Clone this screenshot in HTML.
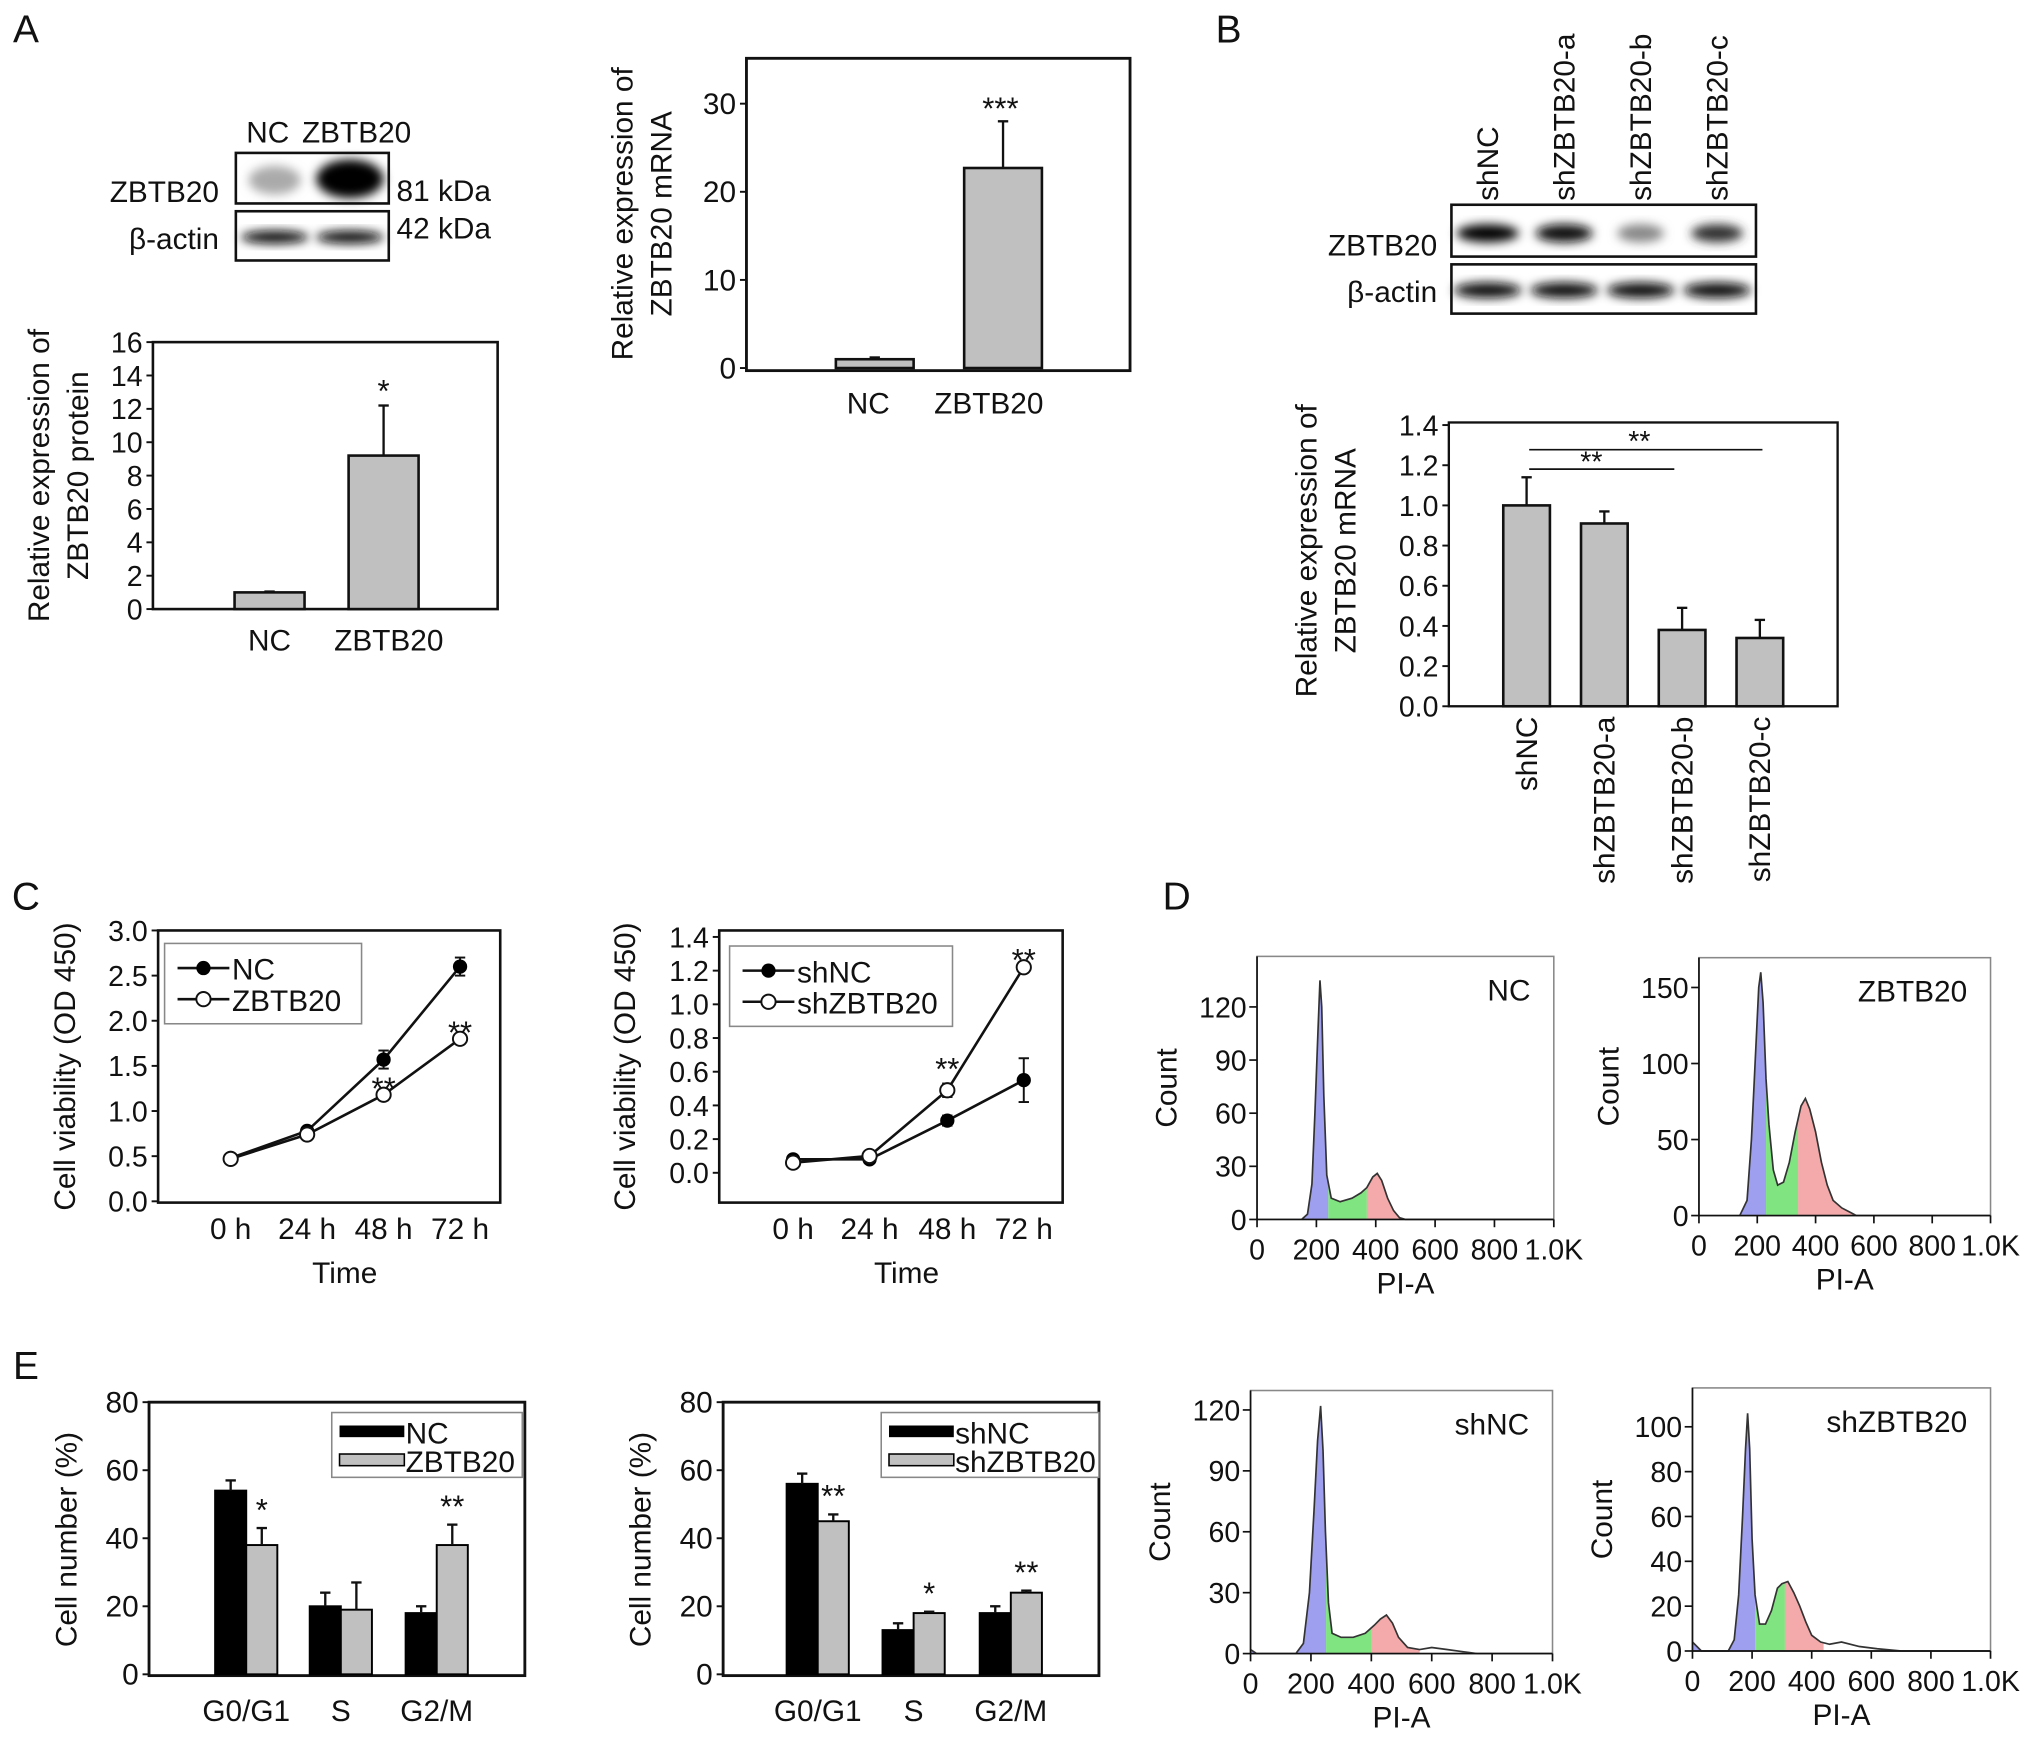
<!DOCTYPE html>
<html><head><meta charset="utf-8"><style>
html,body{margin:0;padding:0;background:#fff;}
svg{display:block;}
text{font-family:"Liberation Sans",Arial,sans-serif;fill:#111;}
</style></head><body>
<svg id="fig" xmlns="http://www.w3.org/2000/svg" width="2032" height="1743" viewBox="0 0 1568 1345" preserveAspectRatio="none">
<defs><filter id="blur" x="-50%" y="-50%" width="200%" height="200%"><feGaussianBlur stdDeviation="4"/></filter></defs>
<rect x="0" y="0" width="1568" height="1345" fill="#fff"/>
</svg>
<script>
// ---------- data ----------
const protCats=['NC','ZBTB20'];
const protVals=[1,9.2];
const protErr=[0.05,3.0];
const protTicks=[0,2,4,6,8,10,12,14,16];
const mrnaCats=['NC','ZBTB20'];
const mrnaVals=[1,22.7];
const mrnaErr=[0.2,5.3];
const mrnaTicks=[0,10,20,30];
const shCats=['shNC','shZBTB20-a','shZBTB20-b','shZBTB20-c'];
const shVals=[1.0,0.91,0.38,0.34];
const shErr=[0.14,0.06,0.11,0.09];
const shTicks=[0,0.2,0.4,0.6,0.8,1.0,1.2,1.4];
const times=['0 h','24 h','48 h','72 h'];
const c1Ticks=[0,0.5,1.0,1.5,2.0,2.5,3.0];
const ncVia=[0.48,0.78,1.57,2.6];
const ncViaErr=[0.02,0.04,0.1,0.1];
const zVia=[0.47,0.74,1.18,1.8];
const zViaErr=[0.02,0.03,0.06,0.04];
const c2Ticks=[0,0.2,0.4,0.6,0.8,1.0,1.2,1.4];
const shncVia=[0.08,0.08,0.31,0.55];
const shncViaErr=[0.02,0.02,0.03,0.13];
const shzVia=[0.06,0.1,0.49,1.22];
const shzViaErr=[0.02,0.02,0.04,0.03];
const phases=['G0/G1','S','G2/M'];
const eTicks=[0,20,40,60,80];
const e1Black=[54,20,18];
const e1BlackErr=[3,4,2];
const e1Gray=[38,19,38];
const e1GrayErr=[5,8,6];
const e2Black=[56,13,18];
const e2BlackErr=[3,2,2];
const e2Gray=[45,18,24];
const e2GrayErr=[2,0.4,0.6];
const histXTicks=[0,200,400,600,800,1000];
const histXLabels=['0','200','400','600','800','1.0K'];
const hNC=[[150,0],[170,3],[185,20],[195,60],[205,105],[212,135],[218,120],[225,70],[235,25],[250,12],[280,10],[320,12],[350,15],[370,18],[390,24],[405,26],[420,22],[440,12],[460,5],[480,1],[500,0],[1000,0]];
const hZ=[[140,0],[165,10],[180,50],[195,110],[205,150],[212,160],[220,140],[230,90],[240,60],[255,30],[270,20],[290,22],[310,35],[330,55],[350,72],[365,77],[380,70],[400,55],[420,35],[440,20],[460,10],[490,5],[520,2],[540,0],[1000,0]];
const hSHNC=[[0,2],[20,0],[150,0],[175,5],[195,30],[210,70],[222,105],[232,122],[240,100],[248,60],[258,25],[270,10],[300,8],[340,8],[380,10],[410,14],[430,17],[450,19],[470,15],[490,8],[520,3],[560,2],[600,3],[650,2],[700,1],[750,0],[1000,0]];
const hSHZ=[[0,4],[30,0],[120,0],[140,5],[155,25],[168,60],[178,90],[185,106],[192,90],[200,50],[210,25],[225,12],[245,12],[265,18],[285,28],[300,30],[320,31],[340,26],[360,20],[380,13],[400,7],[430,4],[460,3],[500,4],[560,2],[620,1],[700,0],[1000,0]];

// ---------- helpers ----------
const NS='http://www.w3.org/2000/svg';
const svg=document.getElementById('fig');
function el(tag,attrs,name,parent){
  const e=document.createElementNS(NS,tag);
  for(const k in attrs) e.setAttribute(k,attrs[k]);
  
  
  (parent||svg).appendChild(e);
  return e;
}
function txt(x,y,s,name,size,anchor,rot,parent){
  const a={x:x,y:y,'font-size':size||22,'text-anchor':anchor||'middle'};
  if(rot) a.transform='rotate('+rot+' '+x+' '+y+')';
  const t=el('text',a,name,parent);
  t.textContent=s;
  return t;
}
function lin(v0,p0,v1,p1){return v=>p0+(v-v0)*(p1-p0)/(v1-v0);}
function frame(x0,y0,x1,y1,name,sw,col){
  return el('rect',{x:x0,y:y0,width:x1-x0,height:y1-y0,fill:'none',stroke:col||'#111','stroke-width':sw||2},name);
}
function line(x1,y1,x2,y2,name,sw,col){
  return el('line',{x1:x1,y1:y1,x2:x2,y2:y2,stroke:col||'#111','stroke-width':sw||1.5},name);
}
function yAxisTicks(ticks,ys,xa,name,fmt,size){
  ticks.forEach(t=>{
    line(xa-5,ys(t),xa,ys(t),name+'-tick',1.5);
    txt(xa-8,ys(t)+8,fmt(t),name+'-label',size||22,'end');
  });
}
function errBar(x,yTop,yBase,name,cap){
  line(x,yBase,x,yTop,name,1.8);
  line(x-(cap||4),yTop,x+(cap||4),yTop,name+'-cap',1.8);
}

// ---------- Panel A ----------
txt(20,33,'A','panel-label-a',30);
txt(190,110,'NC','blot-a-lane-nc',23,'start');
txt(233,110,'ZBTB20','blot-a-lane-zbtb20',23,'start');
el('rect',{x:182,y:118,width:118,height:39,fill:'#fff'},'blot-a-zbtb20-strip');
el('ellipse',{cx:212,cy:139,rx:20,ry:11,fill:'#aaa',filter:'url(#blur)'},'blot-a-band-nc');
el('ellipse',{cx:270,cy:138,rx:26,ry:15,fill:'#000',filter:'url(#blur)'},'blot-a-band-zbtb20');
frame(182,118,300,157,'blot-a-zbtb20-frame',2);
el('ellipse',{cx:212,cy:183,rx:26,ry:5,fill:'#111',filter:'url(#blur)'},'blot-a-actin-nc');
el('ellipse',{cx:270,cy:183,rx:26,ry:5,fill:'#111',filter:'url(#blur)'},'blot-a-actin-zbtb20');
frame(182,163,300,201,'blot-a-actin-frame',2);
txt(169,156,'ZBTB20','blot-a-row-zbtb20',23,'end');
txt(169,192,'β-actin','blot-a-row-actin',23,'end');
txt(306,155,'81 kDa','blot-a-mw-81',23,'start');
txt(306,184,'42 kDa','blot-a-mw-42',23,'start');

(function(){
  const x0=118,y0=264,x1=384,y1=470;
  const ys=lin(0,470,16,264);
  const xc=[208,296];
  frame(x0,y0,x1,y1,'protein-chart-frame',2);
  yAxisTicks(protTicks,ys,x0,'protein-y',t=>String(t),22);
  protVals.forEach((v,i)=>{
    el('rect',{x:xc[i]-27,y:ys(v),width:54,height:ys(0)-ys(v),fill:'#c0c0c0',stroke:'#111','stroke-width':2},'protein-bar-'+protCats[i].toLowerCase());
    errBar(xc[i],ys(v+protErr[i]),ys(v),'protein-err-'+i);
    txt(xc[i]+(i?4:0),502,protCats[i],'protein-x-label',23);
  });
  txt(296,310,'*','protein-sig-star',24);
  txt(38,367,'Relative expression of','protein-y-title-1',23,'middle',-90);
  txt(68,367,'ZBTB20 protein','protein-y-title-2',23,'middle',-90);
})();

(function(){
  const x0=576,y0=45,x1=872,y1=286;
  const ys=lin(0,284,30,80);
  const xc=[675,774];
  frame(x0,y0,x1,y1,'mrna-a-chart-frame',2.2);
  yAxisTicks(mrnaTicks,ys,x0,'mrna-a-y',t=>String(t),23);
  mrnaVals.forEach((v,i)=>{
    el('rect',{x:xc[i]-30,y:ys(v),width:60,height:ys(0)-ys(v),fill:'#c0c0c0',stroke:'#111','stroke-width':2},'mrna-a-bar-'+mrnaCats[i].toLowerCase());
    errBar(xc[i],ys(v+mrnaErr[i]),ys(v),'mrna-a-err-'+i);
  });
  txt(670,319,'NC','mrna-a-x-label',23);
  txt(763,319,'ZBTB20','mrna-a-x-label',23);
  txt(772,92,'***','mrna-a-sig-star',24);
  txt(488,165,'Relative expression of','mrna-a-y-title-1',23,'middle',-90);
  txt(518,165,'ZBTB20 mRNA','mrna-a-y-title-2',23,'middle',-90);
})();

// ---------- Panel B ----------
txt(948,33,'B','panel-label-b',30);
(function(){
  const lx=[1148,1207,1266,1325];
  shCats.forEach((c,i)=>txt(lx[i]+8,155,c,'blot-b-lane-label',23,'start',-90));
  const zInt=['#000','#111','#888','#333'];
  const zW=[24,22,18,20];
  lx.forEach((x,i)=>el('ellipse',{cx:x,cy:180,rx:zW[i],ry:7,fill:zInt[i],filter:'url(#blur)'},'blot-b-zbtb20-band'));
  frame(1120,158,1355,198,'blot-b-zbtb20-frame',2);
  lx.forEach((x,i)=>el('ellipse',{cx:x,cy:224,rx:26,ry:6,fill:'#111',filter:'url(#blur)'},'blot-b-actin-band'));
  frame(1120,204,1355,242,'blot-b-actin-frame',2);
  txt(1109,197,'ZBTB20','blot-b-row-zbtb20',23,'end');
  txt(1109,233,'β-actin','blot-b-row-actin',23,'end');

  const x0=1118,y0=326,x1=1418,y1=545;
  const ys=lin(0,545,1.4,328);
  const xc=[1178,1238,1298,1358];
  frame(x0,y0,x1,y1,'mrna-b-chart-frame',1.8);
  yAxisTicks(shTicks,ys,x0,'mrna-b-y',t=>t.toFixed(1),22);
  shVals.forEach((v,i)=>{
    el('rect',{x:xc[i]-18,y:ys(v),width:36,height:ys(0)-ys(v),fill:'#c0c0c0',stroke:'#111','stroke-width':2},'mrna-b-bar-'+shCats[i].toLowerCase());
    errBar(xc[i],ys(v+shErr[i]),ys(v),'mrna-b-err-'+i);
    txt(xc[i]+8,553,shCats[i],'mrna-b-x-label',23,'end',-90);
  });
  line(1180,347,1360,347,'sig-bracket-shnc-c',1.3);
  txt(1265,348,'**','sig-star-shnc-c',22);
  line(1180,362,1292,362,'sig-bracket-shnc-b',1.3);
  txt(1228,364,'**','sig-star-shnc-b',22);
  txt(1016,425,'Relative expression of','mrna-b-y-title-1',23,'middle',-90);
  txt(1046,425,'ZBTB20 mRNA','mrna-b-y-title-2',23,'middle',-90);
})();

// ---------- Panel C ----------
txt(20,702,'C','panel-label-c',30);
function lineChart(pfx,x0,y0,x1,y1,ys,ticks,fmt,xc,sA,eA,sB,eB,legend,stars){
  frame(x0,y0,x1,y1,pfx+'-frame',2);
  yAxisTicks(ticks,ys,x0,pfx+'-y',fmt,22);
  times.forEach((t,i)=>txt(xc[i],956,t,pfx+'-x-label',23));
  txt((x0+x1)/2+12,990,'Time','x-axis-title-'+pfx,23);
  const ptsA=sA.map((v,i)=>xc[i]+','+ys(v)).join(' ');
  const ptsB=sB.map((v,i)=>xc[i]+','+ys(v)).join(' ');
  el('polyline',{points:ptsA,fill:'none',stroke:'#111','stroke-width':2},pfx+'-line-a');
  el('polyline',{points:ptsB,fill:'none',stroke:'#111','stroke-width':2},pfx+'-line-b');
  sA.forEach((v,i)=>{
    line(xc[i],ys(v+eA[i]),xc[i],ys(v-eA[i]),pfx+'-err-a',1.5);
    line(xc[i]-4,ys(v+eA[i]),xc[i]+4,ys(v+eA[i]),pfx+'-err-a-cap',1.5);
    line(xc[i]-4,ys(v-eA[i]),xc[i]+4,ys(v-eA[i]),pfx+'-err-a-cap',1.5);
  });
  sB.forEach((v,i)=>{
    line(xc[i],ys(v+eB[i]),xc[i],ys(v-eB[i]),pfx+'-err-b',1.5);
    line(xc[i]-4,ys(v+eB[i]),xc[i]+4,ys(v+eB[i]),pfx+'-err-b-cap',1.5);
    line(xc[i]-4,ys(v-eB[i]),xc[i]+4,ys(v-eB[i]),pfx+'-err-b-cap',1.5);
  });
  sA.forEach((v,i)=>el('circle',{cx:xc[i],cy:ys(v),r:5.5,fill:'#000'},pfx+'-point-a'));
  sB.forEach((v,i)=>el('circle',{cx:xc[i],cy:ys(v),r:5.5,fill:'#fff',stroke:'#111','stroke-width':1.5},pfx+'-point-b'));
  const L=legend;
  el('rect',{x:L.x,y:L.y,width:L.w,height:62,fill:'#fff',stroke:'#888','stroke-width':1.2},pfx+'-legend-box');
  line(L.x+10,L.y+19,L.x+50,L.y+19,pfx+'-legend-line-a',2);
  el('circle',{cx:L.x+30,cy:L.y+19,r:5.5,fill:'#000'},pfx+'-legend-marker-a');
  txt(L.x+52,L.y+28,L.a,pfx+'-legend-label-a',23,'start');
  line(L.x+10,L.y+43,L.x+50,L.y+43,pfx+'-legend-line-b',2);
  el('circle',{cx:L.x+30,cy:L.y+43,r:5.5,fill:'#fff',stroke:'#111','stroke-width':1.5},pfx+'-legend-marker-b');
  txt(L.x+52,L.y+52,L.b,pfx+'-legend-label-b',23,'start');
  stars.forEach(s=>txt(xc[s[0]],s[1],'**',pfx+'-sig-star',24));
}
lineChart('viability-oe',122,718,386,928,lin(0,927,3,718),c1Ticks,t=>t.toFixed(1),[178,237,296,355],
  ncVia,ncViaErr,zVia,zViaErr,{x:127,y:728,w:152,a:'NC',b:'ZBTB20'},[[2,848],[3,805]]);
txt(58,823,'Cell viability (OD 450)','viability-oe-y-title',23,'middle',-90);
lineChart('viability-sh',555,718,820,928,lin(0,905,1.4,723),c2Ticks,t=>t.toFixed(1),[612,671,731,790],
  shncVia,shncViaErr,shzVia,shzViaErr,{x:563,y:730,w:172,a:'shNC',b:'shZBTB20'},[[2,833],[3,749]]);
txt(490,823,'Cell viability (OD 450)','viability-sh-y-title',23,'middle',-90);

// ---------- Panel D ----------
txt(908,702,'D','panel-label-d',30);
function interp(pts,x){
  for(let i=0;i<pts.length-1;i++){
    if(x>=pts[i][0]&&x<=pts[i+1][0]){const t=(x-pts[i][0])/(pts[i+1][0]-pts[i][0]);return pts[i][1]+t*(pts[i+1][1]-pts[i][1]);}
  }
  return 0;
}
function histo(pfx,x0,y0,x1,y1,yTickVals,yTopVal,yTopPx,data,splits,lab){
  const xs=lin(0,x0,1000,x1);
  const ys=lin(0,y1,yTopVal,yTopPx);
  const segs=[[0,splits[0],'rgba(80,80,225,0.55)','g1-fill'],[splits[0],splits[1],'rgba(60,215,60,0.65)','s-fill'],[splits[1],splits[2],'rgba(235,100,100,0.55)','g2-fill']];
  segs.forEach(s=>{
    const pts=[[s[0],0],[s[0],interp(data,s[0])]];
    data.forEach(p=>{if(p[0]>s[0]&&p[0]<s[1])pts.push(p);});
    pts.push([s[1],interp(data,s[1])]);pts.push([s[1],0]);
    el('polygon',{points:pts.map(p=>xs(p[0])+','+ys(p[1])).join(' '),fill:s[2]},pfx+'-'+s[3]);
  });
  el('polyline',{points:data.map(p=>xs(p[0])+','+ys(p[1])).join(' '),fill:'none',stroke:'#333','stroke-width':1.3},pfx+'-histogram-outline');
  frame(x0,y0,x1,y1,pfx+'-frame',1.2,'#888');
  yTickVals.forEach(t=>{
    line(x0-6,ys(t),x0,ys(t),pfx+'-y-tick',1.3);
    txt(x0-8,ys(t)+8,String(t),pfx+'-y-label',22,'end');
  });
  histXTicks.forEach((t,i)=>{
    line(xs(t),y1,xs(t),y1+6,pfx+'-x-tick',1.3);
    txt(xs(t),y1+31,histXLabels[i],pfx+'-x-label',22);
  });
  line(x0,y1,x1,y1,pfx+'-x-axis',1.3);
  line(x0,y0,x0,y1,pfx+'-y-axis',1.3);
  txt((x0+x1)/2,y1+57,'PI-A','x-axis-title-'+pfx,23);
  txt(x0-62,(y0+y1)/2,'Count','y-axis-title-'+pfx,23,'middle',-90);
  txt(x1-18,y0+34,lab,pfx+'-sample-label',23,'end');
}
histo('hist-nc',970,738,1199,941,[0,30,60,90,120],120,777,hNC,[240,370,520],'NC');
histo('hist-zbtb20',1311,739,1536,938,[0,50,100,150],150,762,hZ,[230,340,560],'ZBTB20');
histo('hist-shnc',965,1073,1198,1276,[0,30,60,90,120],120,1088,hSHNC,[250,400,560],'shNC');
histo('hist-shzbtb20',1306,1071,1536,1274,[0,20,40,60,80,100],100,1101,hSHZ,[210,310,440],'shZBTB20');

// ---------- Panel E ----------
txt(20,1064,'E','panel-label-e',30);
function cycleChart(pfx,x0,xc,blk,blkE,gry,gryE,legend,stars){
  const y0=1082,y1=1293,x1=x0+290;
  const ys=lin(0,1292,80,1082);
  frame(x0,y0,x1,y1,pfx+'-frame',2.2);
  yAxisTicks(eTicks,ys,x0,pfx+'-y',t=>String(t),23);
  phases.forEach((p,i)=>{
    el('rect',{x:xc[i]-24,y:ys(blk[i]),width:24,height:ys(0)-ys(blk[i]),fill:'#000',stroke:'#000','stroke-width':1.5},pfx+'-bar-black-'+i);
    errBar(xc[i]-12,ys(blk[i]+blkE[i]),ys(blk[i]),pfx+'-err-black');
    el('rect',{x:xc[i],y:ys(gry[i]),width:24,height:ys(0)-ys(gry[i]),fill:'#c0c0c0',stroke:'#000','stroke-width':1.5},pfx+'-bar-gray-'+i);
    errBar(xc[i]+12,ys(gry[i]+gryE[i]),ys(gry[i]),pfx+'-err-gray');
    txt(xc[i],1328,p,pfx+'-x-label',23);
  });
  const L=legend;
  el('rect',{x:L.x,y:L.y,width:L.w,height:50,fill:'#fff',stroke:'#888','stroke-width':1.2},pfx+'-legend-box');
  el('rect',{x:L.x+6,y:L.y+10,width:50,height:9,fill:'#000'},pfx+'-legend-swatch-a');
  txt(L.x+57,L.y+24,L.a,pfx+'-legend-label-a',23,'start');
  el('rect',{x:L.x+6,y:L.y+32,width:50,height:9,fill:'#c0c0c0',stroke:'#000','stroke-width':1.2},pfx+'-legend-swatch-b');
  txt(L.x+57,L.y+46,L.b,pfx+'-legend-label-b',23,'start');
  stars.forEach(s=>txt(xc[s[0]]+12,ys(gry[s[0]]+gryE[s[0]])-6,s[1],pfx+'-sig-star',24));
  txt(x0-56,1188,'Cell number (%)','y-axis-title-'+pfx,23,'middle',-90);
}
cycleChart('cycle-oe',115,[190,263,337],e1Black,e1BlackErr,e1Gray,e1GrayErr,{x:256,y:1090,w:147,a:'NC',b:'ZBTB20'},[[0,'*'],[2,'**']]);
cycleChart('cycle-sh',558,[631,705,780],e2Black,e2BlackErr,e2Gray,e2GrayErr,{x:680,y:1090,w:168,a:'shNC',b:'shZBTB20'},[[0,'**'],[1,'*'],[2,'**']]);
</script>
</body></html>
